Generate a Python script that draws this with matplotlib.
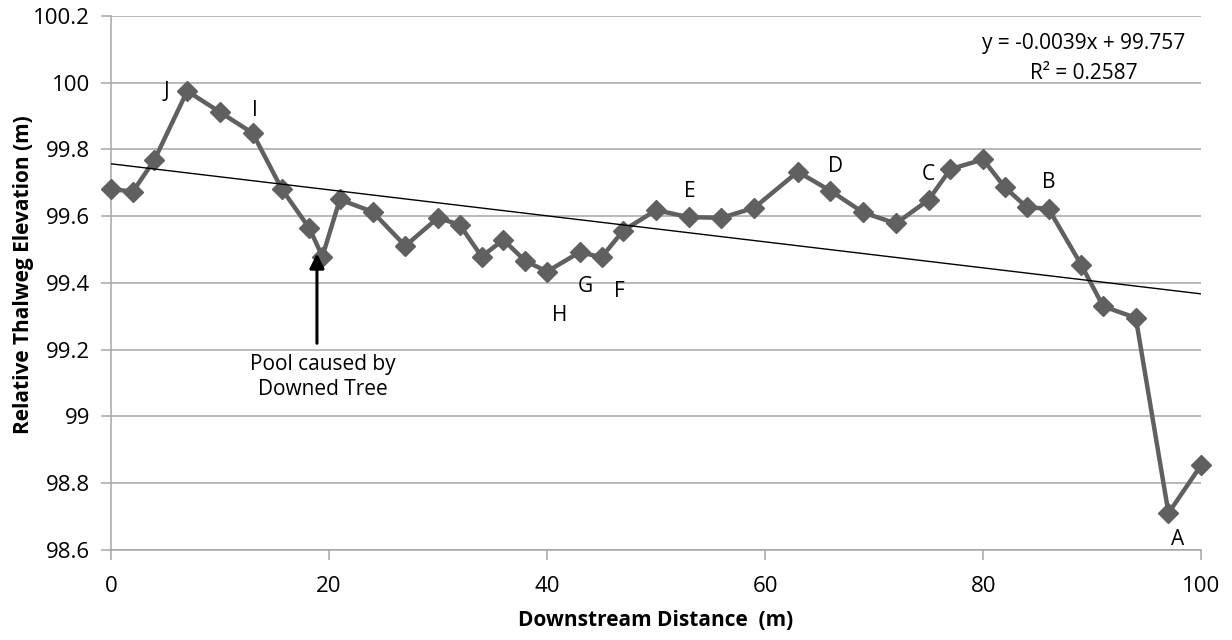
import matplotlib
matplotlib.use("Agg")
import matplotlib.pyplot as plt

plt.rcParams['font.family'] = ['Open Sans', 'DejaVu Sans']

# Thalweg survey: distance downstream (m) and relative bed elevation (m)
distance = [0, 2, 4, 7, 10, 13, 15.7, 18.2, 19.4, 21, 24, 27, 30, 32, 34, 36,
            38, 40, 43, 45, 47, 50, 53, 56, 59, 63, 66, 69, 72, 75, 77, 80,
            82, 84, 86, 89, 91, 94, 97, 100]
elevation = [99.682, 99.673, 99.769, 99.975, 99.912, 99.849, 99.680, 99.564,
             99.479, 99.650, 99.613, 99.511, 99.595, 99.574, 99.479, 99.529,
             99.466, 99.434, 99.492, 99.477, 99.557, 99.618, 99.597, 99.595,
             99.625, 99.733, 99.676, 99.611, 99.578, 99.649, 99.741, 99.770,
             99.686, 99.627, 99.622, 99.454, 99.330, 99.295, 98.710, 98.854]

# linear trend line as reported
slope = -0.0039
intercept = 99.757
r_squared = 0.2587

# feature letters and where they sit
feature_labels = ['J', 'I', 'H', 'G', 'F', 'E', 'D', 'C', 'B', 'A']
feature_x = [5.1, 13.2, 41.2, 43.5, 46.6, 53.1, 66.5, 75.0, 86.0, 97.8]
feature_y = [99.973, 99.918, 99.303, 99.388, 99.373, 99.673, 99.750, 99.726, 99.700, 98.632]

pool_x = 18.9
pool_y = 99.488

fig = plt.figure(figsize=(12.32, 6.4), dpi=100)
ax = fig.add_axes([0.090, 0.141, 0.885, 0.834])

grid_col = '#a6a6a6'
ax.set_xlim(0, 100)
ax.set_ylim(98.6, 100.2)
ax.set_xticks([0, 20, 40, 60, 80, 100])
ax.set_yticks([98.6, 98.8, 99, 99.2, 99.4, 99.6, 99.8, 100, 100.2])
ax.set_yticklabels(['98.6', '98.8', '99', '99.2', '99.4', '99.6', '99.8', '100', '100.2'])
ax.yaxis.grid(True, color=grid_col, linewidth=1.1)
ax.set_axisbelow(True)
for side in ['top', 'right']:
    ax.spines[side].set_visible(False)
for side in ['left', 'bottom']:
    ax.spines[side].set_color(grid_col)
    ax.spines[side].set_linewidth(1.1)
ax.tick_params(axis='both', colors=grid_col, length=7, width=1.1, labelsize=16,
               labelcolor='black')
ax.tick_params(axis='x', pad=12)
ax.tick_params(axis='y', pad=8)

ax.plot(distance, elevation, color='#606060', linewidth=3.2, marker='D',
        markersize=10, markerfacecolor='#606060', markeredgecolor='#606060',
        zorder=3, clip_on=False)

trend_x = [0, 100]
trend_y = [intercept + slope * x for x in trend_x]
ax.plot(trend_x, trend_y, color='black', linewidth=1.0, zorder=4)

ax.text(89.2, 100.119, 'y = %.4fx + %.3f' % (slope, intercept), ha='center',
        va='center', fontsize=15)
ax.text(89.2, 100.029, 'R² = %.4f' % r_squared, ha='center', va='center',
        fontsize=15)

for lab, lx, ly in zip(feature_labels, feature_x, feature_y):
    ax.text(lx, ly, lab, ha='center', va='center', fontsize=15)

ax.annotate('', xy=(pool_x, pool_y), xytext=(pool_x, 99.219),
            arrowprops=dict(arrowstyle='-|>', color='black', lw=2.2,
                            mutation_scale=22, shrinkA=0, shrinkB=0),
            zorder=5)
ax.text(19.4, 99.118, 'Pool caused by\nDowned Tree', ha='center', va='center',
        fontsize=15, linespacing=1.3)

ax.set_xlabel('Downstream Distance  (m)', fontsize=15, fontweight='bold', labelpad=9)
ax.set_ylabel('Relative Thalweg Elevation (m)', fontsize=15, fontweight='bold',
              va='center')
ax.yaxis.set_label_coords(-0.080, 0.515)

fig.savefig('out.png', dpi=100)
